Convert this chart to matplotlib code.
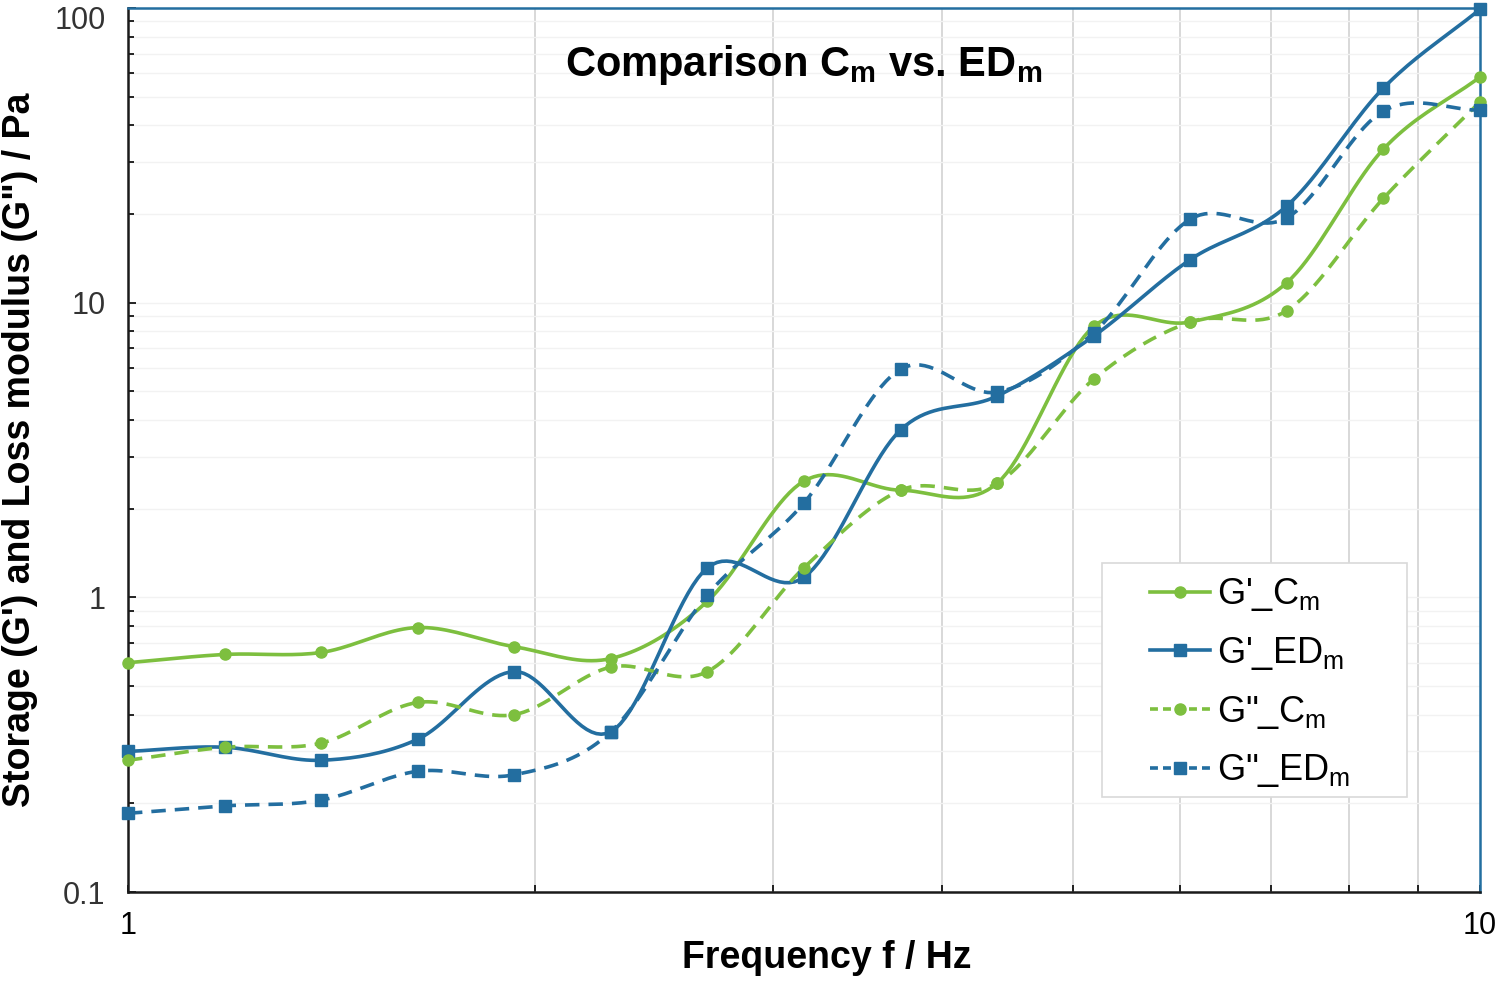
import matplotlib
import matplotlib.pyplot as plt
import numpy as np
from matplotlib.ticker import LogLocator, NullFormatter, FixedLocator, FixedFormatter
from matplotlib.patches import Rectangle
import matplotlib.transforms as mtrans

matplotlib.use('agg')

# frequency points (Hz), 14 steps per decade
freq = [1.0, 1.179, 1.389, 1.638, 1.931, 2.276, 2.683, 3.162,
        3.728, 4.394, 5.179, 6.105, 7.197, 8.483, 10.0]

g1_c = [0.60, 0.64, 0.65, 0.79, 0.68, 0.62, 0.97, 2.48,
        2.31, 2.44, 8.3, 8.6, 11.7, 33.2, 58.3]
g1_ed = [0.30, 0.31, 0.28, 0.33, 0.56, 0.35, 1.26, 1.17,
         3.70, 4.82, 7.7, 14.0, 21.3, 53.5, 99.0]
g2_c = [0.28, 0.31, 0.32, 0.44, 0.40, 0.58, 0.56, 1.26,
        2.31, 2.44, 5.5, 8.6, 9.4, 22.6, 48.0]
g2_ed = [0.185, 0.196, 0.205, 0.257, 0.25, 0.35, 1.02, 2.09,
         5.95, 4.97, 7.9, 19.2, 19.4, 44.7, 45.0]

labels = ["G'_C$_{\\mathrm{m}}$", "G'_ED$_{\\mathrm{m}}$",
          "G\"_C$_{\\mathrm{m}}$", "G\"_ED$_{\\mathrm{m}}$"]

green = '#7dbf3f'
blue = '#236ea0'


def smooth(x, y, n=20):
    # catmull-rom through the points in log-log space (like excel smoothed lines)
    lx = np.log10(x)
    ly = np.log10(y)
    px = np.concatenate([[2 * lx[0] - lx[1]], lx, [2 * lx[-1] - lx[-2]]])
    py = np.concatenate([[2 * ly[0] - ly[1]], ly, [2 * ly[-1] - ly[-2]]])
    xs, ys = [], []
    t = np.linspace(0, 1, n, endpoint=False)
    for i in range(1, len(px) - 2):
        for p, out in ((px, xs), (py, ys)):
            p0, p1, p2, p3 = p[i - 1], p[i], p[i + 1], p[i + 2]
            out.extend(0.5 * (2 * p1 + (-p0 + p2) * t
                              + (2 * p0 - 5 * p1 + 4 * p2 - p3) * t ** 2
                              + (-p0 + 3 * p1 - 3 * p2 + p3) * t ** 3))
    xs.append(lx[-1])
    ys.append(ly[-1])
    return 10 ** np.array(xs), 10 ** np.array(ys)


plt.rcParams['font.family'] = ['Liberation Sans', 'DejaVu Sans']
plt.rcParams['mathtext.fontset'] = 'custom'
plt.rcParams['mathtext.rm'] = 'Liberation Sans'
plt.rcParams['mathtext.bf'] = 'Liberation Sans:bold'

fig = plt.figure(figsize=(15, 9.82), dpi=100)
ax = fig.add_axes([0.0853, 0.0916, 0.9014, 0.9003])

series = [(g1_c, green, '-', 'o'), (g1_ed, blue, '-', 's'),
          (g2_c, green, '--', 'o'), (g2_ed, blue, '--', 's')]
for (vals, col, ls, mk), lab in zip(series, labels):
    sx, sy = smooth(freq, vals)
    ax.plot(sx, sy, color=col, ls=ls, lw=2.6, dashes=(4, 2.5) if ls == '--' else (None, None),
            zorder=3)
    ax.plot(freq, vals, ls='none', marker=mk, color=col, ms=8, zorder=4, clip_on=False)
    ax.plot([], [], color=col, ls=ls, lw=2.6, marker=mk, ms=8, label=lab,
            dashes=(2.2, 1.4) if ls == '--' else (None, None))

ax.set_xscale('log')
ax.set_yscale('log')
ax.set_xlim(1, 10)
ax.set_ylim(0.1, 100)

ax.xaxis.set_major_locator(FixedLocator([1, 10]))
ax.xaxis.set_major_formatter(FixedFormatter(['1', '10']))
ax.xaxis.set_minor_locator(LogLocator(base=10, subs=np.arange(2, 10)))
ax.xaxis.set_minor_formatter(NullFormatter())
ax.yaxis.set_major_locator(FixedLocator([0.1, 1, 10, 100]))
ax.yaxis.set_major_formatter(FixedFormatter(['0.1', '1', '10', '100']))
ax.yaxis.set_minor_locator(LogLocator(base=10, subs=np.arange(2, 10)))
ax.yaxis.set_minor_formatter(NullFormatter())

ax.grid(which='minor', axis='x', color='#d6d6d6', lw=1.3)
ax.grid(which='minor', axis='y', color='#f2f2f2', lw=1.0)
ax.grid(which='major', axis='y', color='#f2f2f2', lw=1.0)
ax.set_axisbelow(True)

ax.tick_params(axis='y', which='both', direction='in', length=6, width=1.2, labelsize=22,
               labelcolor='#333333', pad=16)
ax.tick_params(axis='y', which='minor', length=4)
ax.tick_params(axis='x', which='both', direction='in', length=5, width=1.2, labelsize=22,
               pad=14)

# keep the top label inside the canvas
top_lab = ax.get_yticklabels()[-1]
top_lab.set_transform(top_lab.get_transform() + mtrans.ScaledTranslation(0, -10 / 100, fig.dpi_scale_trans))

for s in ('left', 'bottom'):
    ax.spines[s].set_color('#1a1a1a')
    ax.spines[s].set_linewidth(1.8)
for s in ('top', 'right'):
    ax.spines[s].set_color(blue)
    ax.spines[s].set_linewidth(1.8)

fig.text(0.551, 0.0245, 'Frequency f / Hz', fontsize=27, fontweight='bold', ha='center', va='center')
ax.set_ylabel('Storage (G\') and Loss modulus (G") / Pa', fontsize=27, fontweight='bold',
              labelpad=12)

ax.text(0.5, 0.935, 'Comparison C$_{\\mathbf{m}}$ vs. ED$_{\\mathbf{m}}$', transform=ax.transAxes,
        ha='center', va='center', fontsize=30, fontweight='bold')

# legend frame drawn separately (excel-style padding)
ax.add_patch(Rectangle((0.7204, 0.1075), 0.2256, 0.2647, transform=ax.transAxes, fill=True,
                       facecolor='white', edgecolor='#d9d9d9', lw=1.2, zorder=5))
leg = ax.legend(loc='upper left', bbox_to_anchor=(0.756, 0.357), fontsize=26, frameon=False,
                handlelength=1.65, labelspacing=0.6, borderpad=0, handletextpad=0.2,
                borderaxespad=0)
leg.set_zorder(6)

fig.savefig('out.png', dpi=100, facecolor='white')
